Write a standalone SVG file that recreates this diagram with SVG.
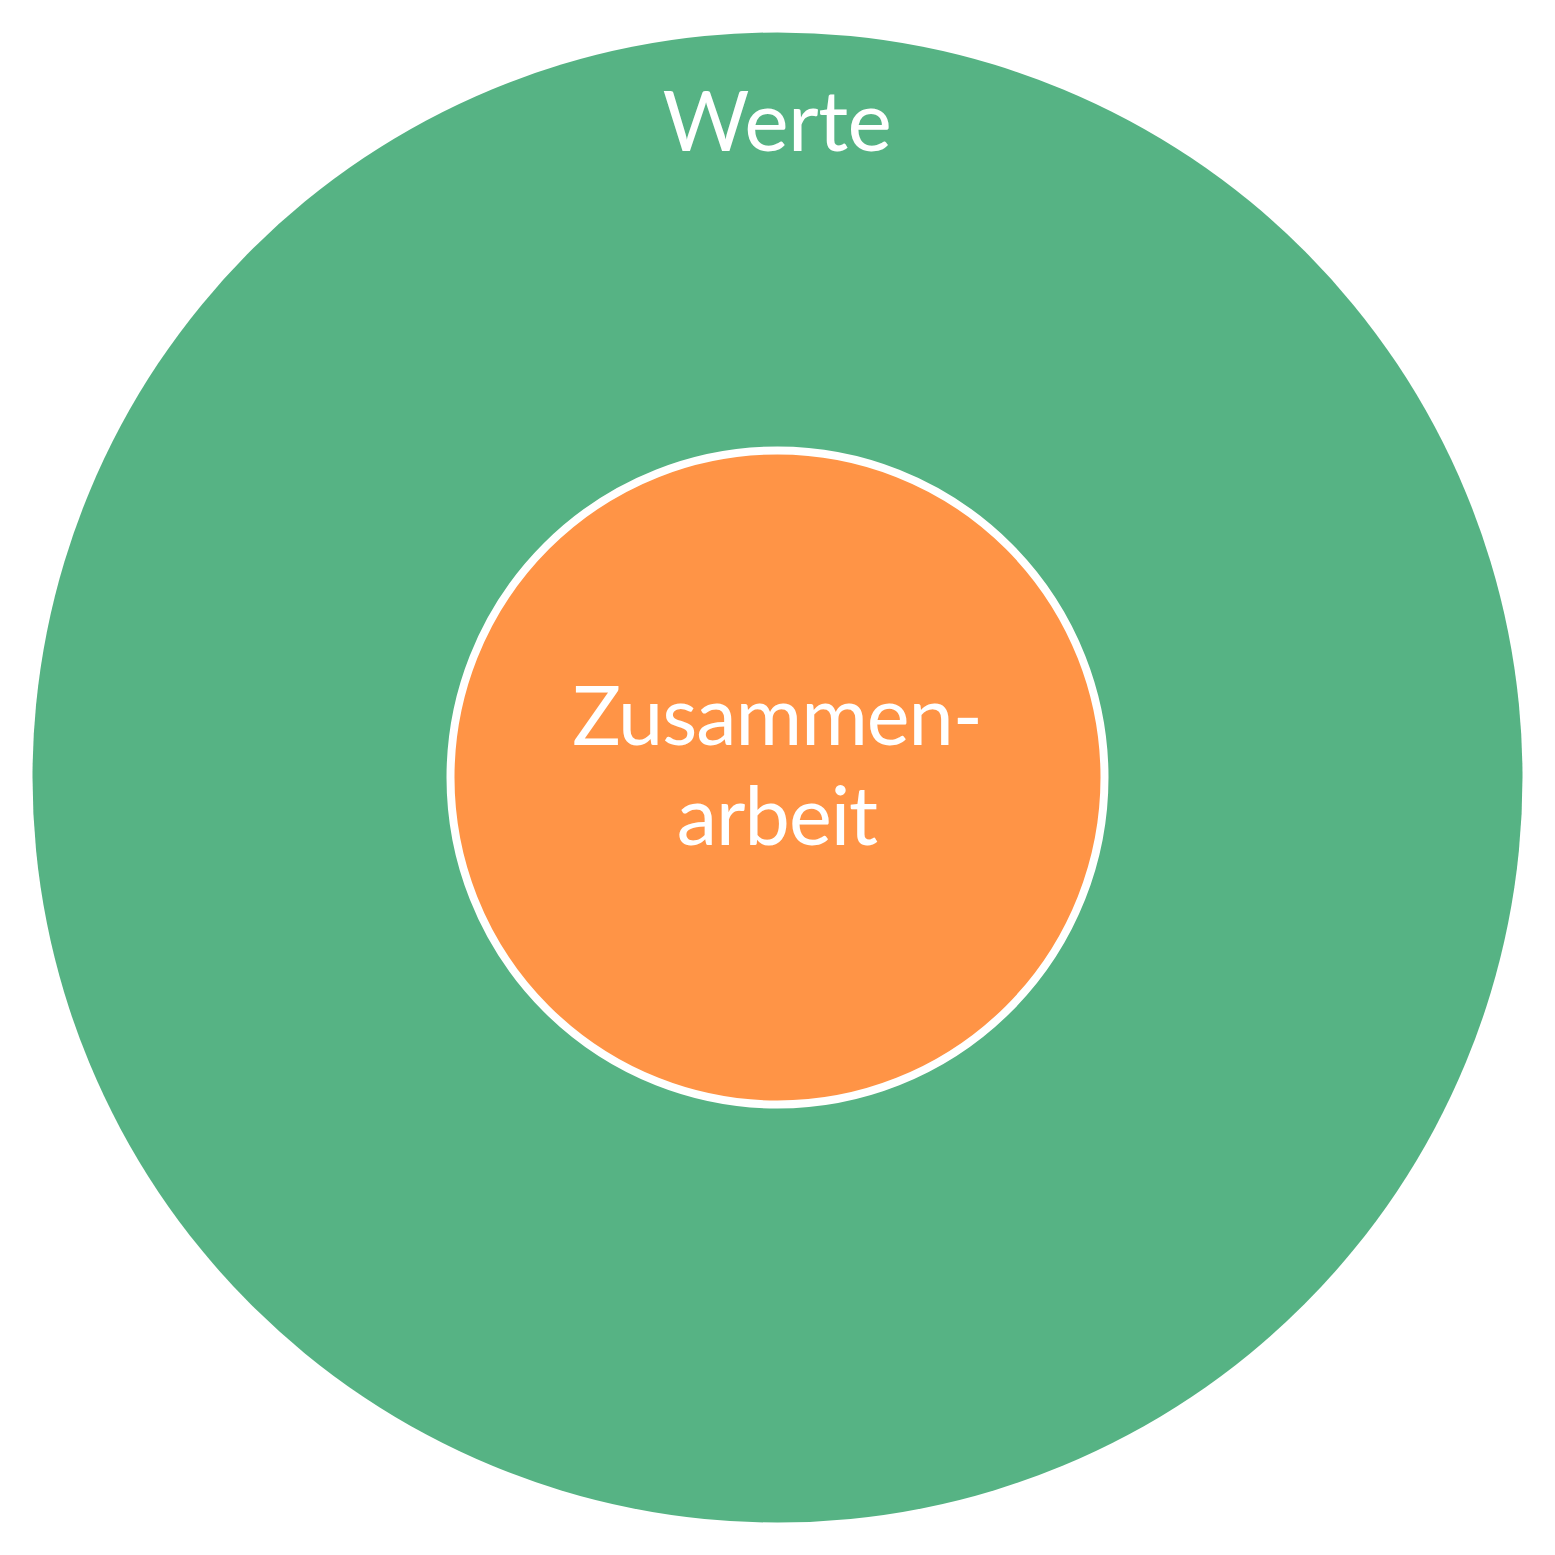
<svg xmlns="http://www.w3.org/2000/svg" width="1555" height="1555" viewBox="0 0 1555 1555">
  <style>
    .label { font-family: Lato, "Liberation Sans", sans-serif; fill: #ffffff; text-anchor: middle; }
  </style>
  <rect width="1555" height="1555" fill="#ffffff"/>
  <g id="werte">
    <circle cx="777.5" cy="777.5" r="745" fill="#56b384"/>
    <text class="label" x="777" y="151" font-size="84" letter-spacing="-0.5">Werte</text>
  </g>
  <g id="zusammenarbeit">
    <circle cx="777.5" cy="777.5" r="327" fill="#ff9446" stroke="#ffffff" stroke-width="8"/>
    <text class="label" x="777" y="745" font-size="81" letter-spacing="-1">Zusammen-</text>
    <text class="label" x="777" y="845" font-size="81" letter-spacing="-1">arbeit</text>
  </g>
  <g id="connectors"/>
</svg>
